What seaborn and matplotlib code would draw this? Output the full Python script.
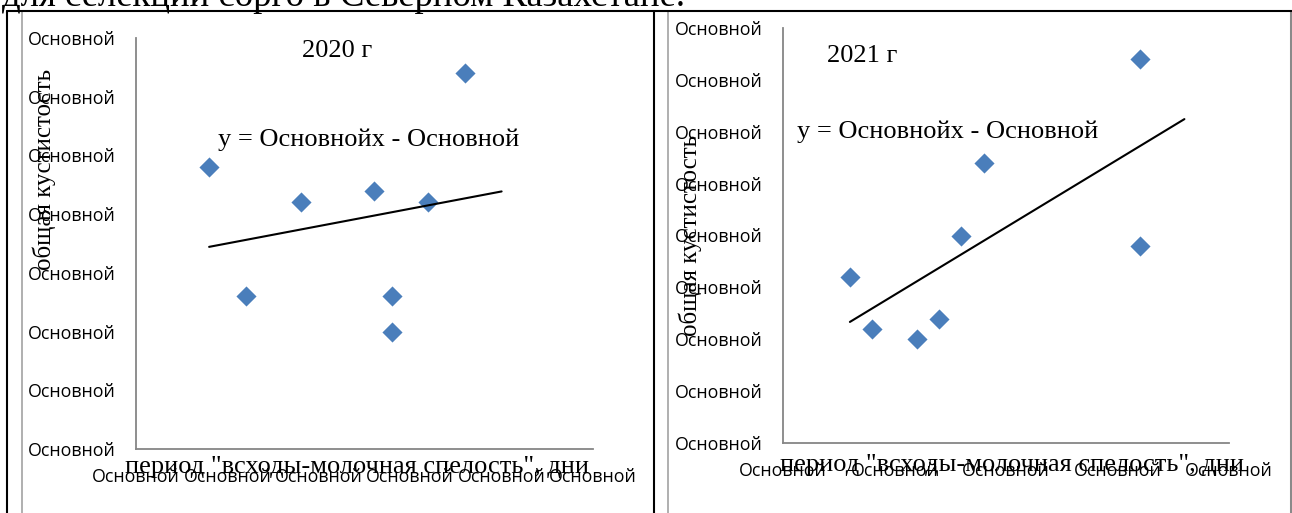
import numpy as np
import pandas as pd
import matplotlib
matplotlib.use("Agg")
import matplotlib.pyplot as plt
from matplotlib.lines import Line2D
import seaborn as sns

# ---- data -------------------------------------------------------------
# period "emergence - milk ripeness", days
days_2020 = [88, 92, 98, 106, 108, 108, 112, 116]
days_2021 = [86, 88, 92, 94, 96, 98, 112, 112]
# total tillering
tiller_2020 = [2.4, 1.3, 2.1, 2.2, 1.3, 1.0, 2.1, 3.2]
tiller_2021 = [1.6, 1.1, 1.0, 1.2, 2.0, 2.7, 3.7, 1.9]

xticks_2020 = [80, 90, 100, 110, 120, 130]
yticks_2020 = [0.0, 0.5, 1.0, 1.5, 2.0, 2.5, 3.0, 3.5]
xticks_2021 = [80, 90, 100, 110, 120]
yticks_2021 = [0.0, 0.5, 1.0, 1.5, 2.0, 2.5, 3.0, 3.5, 4.0]

tick_word = "Основной"          # number format name shown instead of values
trend_forward = 4               # trend line forecast past the last point, days

titles = ["2020 г", "2021 г"]
equation = "y = Основнойх - Основной"
xlabel = 'период "всходы-молочная спелость", дни'
ylabel = "общая кустистость"
heading = "для селекции сорго в Северном Казахстане."

# ---- styling ----------------------------------------------------------
sns.set_theme(style="white")
plt.rcParams["font.family"] = ["Open Sans", "DejaVu Sans"]
SERIF = ["Liberation Serif", "DejaVu Serif"]
AXIS_GREY = "#868686"
MARK_BLUE = "#4A7EBB"

W, H = 1292, 513
fig = plt.figure(figsize=(W / 100, H / 100), dpi=100)
fig.patch.set_facecolor("white")


def fx(px):
    return px / W


def fy(py):
    return 1 - py / H


def make_panel(rect, days, tiller, xticks, yticks):
    left, top, right, bottom = rect
    ax = fig.add_axes([fx(left), fy(bottom), (right - left) / W, (bottom - top) / H])
    df = pd.DataFrame({"days": days, "tiller": tiller})
    sns.scatterplot(data=df, x="days", y="tiller", marker="D", s=105,
                    color=MARK_BLUE, linewidth=0, ax=ax, zorder=3, clip_on=False)
    coef = np.polyfit(df["days"], df["tiller"], 1)
    xs = np.array([df["days"].min(), df["days"].max() + trend_forward])
    sns.lineplot(x=xs, y=np.polyval(coef, xs), color="black", linewidth=1.5,
                 ax=ax, zorder=4)
    ax.set_xlim(xticks[0], xticks[-1])
    ax.set_ylim(yticks[0], yticks[-1])
    ax.set_xticks(xticks)
    ax.set_xticklabels([tick_word] * len(xticks))
    ax.set_yticks(yticks)
    ax.set_yticklabels([tick_word] * len(yticks))
    ax.set_xlabel("")
    ax.set_ylabel("")
    for side in ("top", "right"):
        ax.spines[side].set_visible(False)
    for side in ("left", "bottom"):
        ax.spines[side].set_color(AXIS_GREY)
        ax.spines[side].set_linewidth(1.3)
    ax.tick_params(axis="both", direction="out", length=5, width=1.1,
                   color=AXIS_GREY, labelsize=12.8, labelcolor="black")
    ax.tick_params(axis="y", pad=9.5)
    ax.tick_params(axis="x", pad=8.5)
    ax.patch.set_alpha(0)
    return ax


ax1 = make_panel((136, 38, 593, 449), days_2020, tiller_2020, xticks_2020, yticks_2020)
ax2 = make_panel((783, 28, 1229, 443), days_2021, tiller_2021, xticks_2021, yticks_2021)

# ---- texts ------------------------------------------------------------
serif_kw = dict(family=SERIF, color="black")
fig.text(fx(2), fy(6), heading, fontsize=26.5, va="baseline", ha="left", **serif_kw)

fig.text(fx(337.5), fy(57), titles[0], fontsize=19, ha="center", va="baseline", **serif_kw)
fig.text(fx(862), fy(62), titles[1], fontsize=19, ha="center", va="baseline", **serif_kw)

fig.text(fx(218), fy(146), equation, fontsize=19, ha="left", va="baseline", **serif_kw)
fig.text(fx(797), fy(138), equation, fontsize=19, ha="left", va="baseline", **serif_kw)

fig.text(fx(357), fy(473), xlabel, fontsize=19, ha="center", va="baseline", **serif_kw)
fig.text(fx(1012), fy(471), xlabel, fontsize=19, ha="center", va="baseline", **serif_kw)

fig.text(fx(44), fy(169), ylabel, fontsize=18, rotation=90, ha="center", va="center",
         rotation_mode="anchor", **serif_kw)
fig.text(fx(690), fy(235), ylabel, fontsize=18, rotation=90, ha="center", va="center",
         rotation_mode="anchor", **serif_kw)

# ---- frames around the two chart cells --------------------------------
def hline(y, x0, x1, color, lw):
    fig.add_artist(Line2D([fx(x0), fx(x1)], [fy(y), fy(y)], color=color, lw=lw,
                          transform=fig.transFigure))


def vline(x, y0, y1, color, lw):
    fig.add_artist(Line2D([fx(x), fx(x)], [fy(y0), fy(y1)], color=color, lw=lw,
                          transform=fig.transFigure))


vline(22, 11, H, "#9a9a9a", 1.1)
vline(668, 11, H, "#9a9a9a", 1.1)
vline(1290.5, 11, H, "#8a8a8a", 2.2)
hline(11, 7, W, "black", 1.5)
vline(7, 11, H, "black", 1.5)
vline(654, 11, H, "black", 1.5)

fig.savefig("out.png", dpi=100, facecolor="white")
